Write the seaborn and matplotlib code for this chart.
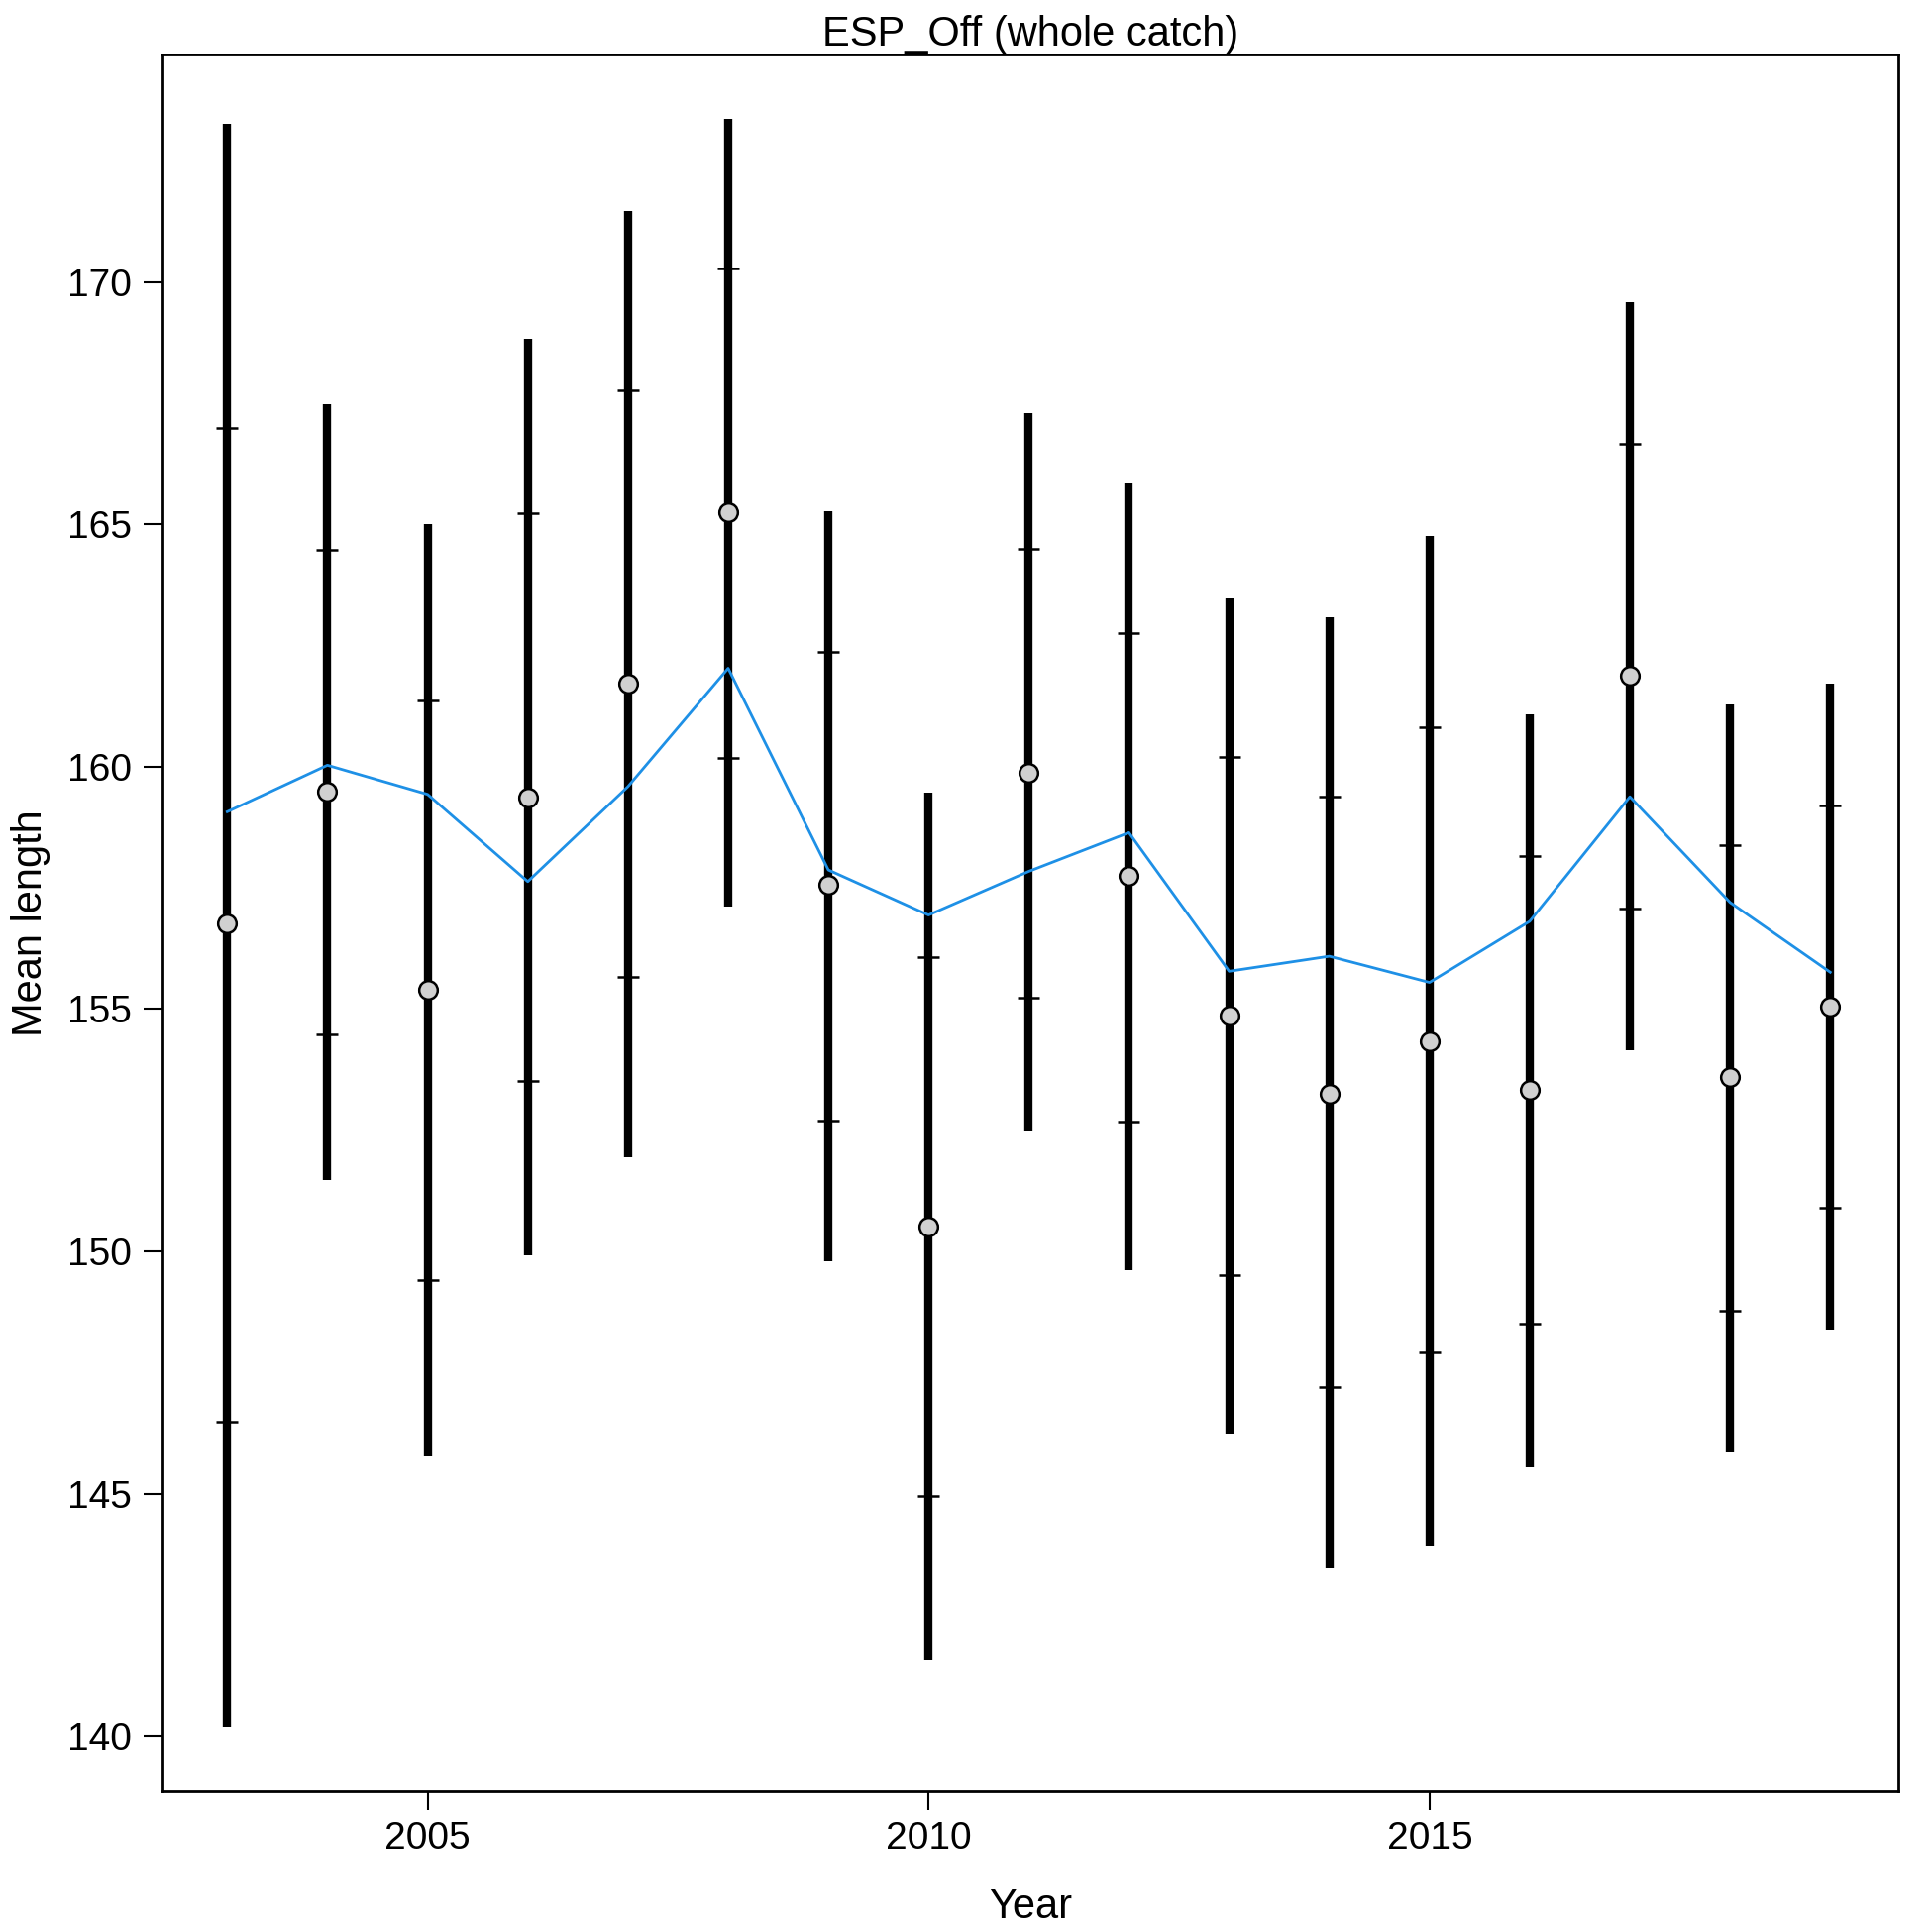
import matplotlib
matplotlib.use('Agg')
import matplotlib.pyplot as plt
import pandas as pd
import seaborn as sns

years = list(range(2003, 2020))
obs_mean = [156.76, 159.49, 155.40, 159.36, 161.72, 165.24, 157.56, 150.51, 159.87,
            157.74, 154.86, 153.26, 154.34, 153.34, 161.88, 153.60, 155.06]
ci_hi = [173.26, 167.48, 165.01, 168.82, 171.47, 173.37, 165.27, 159.46, 167.30,
         165.84, 163.47, 163.08, 164.76, 161.08, 169.59, 161.29, 161.72]
ci_lo = [140.20, 151.47, 145.78, 149.92, 151.95, 157.12, 149.79, 141.59, 152.47,
         149.61, 146.25, 143.47, 143.93, 145.55, 154.16, 145.86, 148.38]
q_hi = [166.99, 164.47, 161.36, 165.22, 167.76, 170.28, 162.36, 156.07, 164.50,
        162.75, 160.21, 159.38, 160.82, 158.15, 166.66, 158.38, 159.20]
q_lo = [146.48, 154.47, 149.41, 153.52, 155.66, 160.18, 152.70, 144.96, 155.24,
        152.67, 149.51, 147.20, 147.92, 148.51, 157.07, 148.77, 150.90]
expected = [159.07, 160.03, 159.43, 157.63, 159.59, 162.03, 157.87, 156.94, 157.84,
            158.64, 155.78, 156.09, 155.55, 156.81, 159.38, 157.20, 155.76]

df = pd.DataFrame({'Year': years, 'obs': obs_mean, 'hi': ci_hi, 'lo': ci_lo,
                   'qhi': q_hi, 'qlo': q_lo, 'exp': expected})

plt.rcParams['font.family'] = 'Liberation Sans'
fig = plt.figure(figsize=(19.5, 19.5), dpi=100)
ax = fig.add_axes([0.0839, 0.073, 0.8987, 0.899])

ax.vlines(df['Year'], df['lo'], df['hi'], colors='black', lw=6, zorder=2)
ax.scatter(df['Year'], df['qhi'], marker='_', s=250, c='black', linewidths=1.8, zorder=3)
ax.scatter(df['Year'], df['qlo'], marker='_', s=250, c='black', linewidths=1.8, zorder=3)
sns.lineplot(data=df, x='Year', y='exp', ax=ax, color='#1E90E6', lw=2, zorder=4)
sns.scatterplot(data=df, x='Year', y='obs', ax=ax, color='#d0d0d0', edgecolor='black',
                linewidth=1.8, s=180, zorder=5)

ax.set_xlim(2002.35, 2019.68)
ax.set_ylim(138.87, 174.70)
ax.set_xticks([2005, 2010, 2015])
ax.set_yticks([140, 145, 150, 155, 160, 165, 170])
ax.tick_params(axis='both', direction='out', length=14, width=1.5, labelsize=28, pad=8)
for s in ax.spines.values():
    s.set_linewidth(2)
ax.set_xlabel('Year', fontsize=30, labelpad=22)
ax.set_ylabel('Mean length', fontsize=30, labelpad=12)
ax.set_title('ESP_Off (whole catch)', fontsize=30, pad=4)

fig.savefig('out.png', dpi=100)
